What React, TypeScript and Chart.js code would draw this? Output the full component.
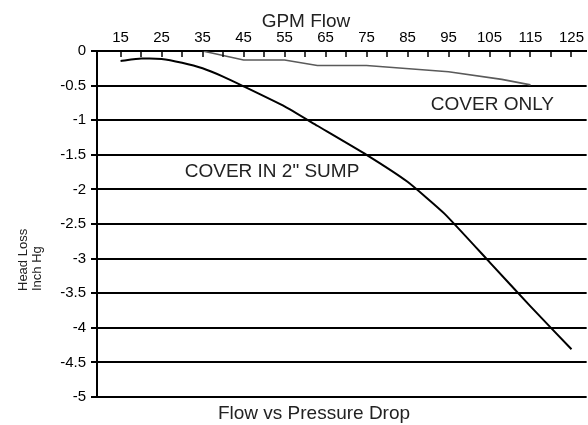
import React, { useEffect, useRef } from "react";
import { Chart, registerables } from "chart.js";

Chart.register(...registerables);

// GPM flow (x) and head loss in inch Hg (y)
const sumpFlow = [15, 20, 25, 30, 35, 40, 45, 55, 63, 75, 85, 94, 105, 115, 125];
const sumpHead = [-0.145, -0.11, -0.115, -0.17, -0.25, -0.37, -0.51, -0.8, -1.08, -1.5, -1.89, -2.35, -3.05, -3.69, -4.31];

const coverFlow = [35, 45, 55, 63, 75, 95, 108, 115];
const coverHead = [0, -0.13, -0.13, -0.21, -0.21, -0.3, -0.41, -0.49];

const xMinorTicks = [15, 20, 25, 30, 35, 40, 45, 50, 55, 60, 65, 70, 75, 80, 85, 90, 95, 100, 105, 110, 115, 120, 125];
const xLabelTicks = [15, 25, 35, 45, 55, 65, 75, 85, 95, 105, 115, 125];

const FONT = '"Liberation Sans", Arial, sans-serif';

const overlay = {
  id: "overlay",
  afterDraw(chart: any) {
    const { ctx, chartArea, scales } = chart;
    const x = scales.x;
    const y = scales.y;
    ctx.save();
    // inward tick marks on the top axis
    ctx.strokeStyle = "#000";
    ctx.lineWidth = 1.5;
    for (const v of xMinorTicks) {
      const px = Math.round(x.getPixelForValue(v));
      ctx.beginPath();
      ctx.moveTo(px, chartArea.top);
      ctx.lineTo(px, chartArea.top + 6);
      ctx.stroke();
    }
    ctx.fillStyle = "#222";
    ctx.textAlign = "center";
    ctx.textBaseline = "middle";
    ctx.font = `19px ${FONT}`;
    ctx.fillText("GPM Flow", 306, 22);
    ctx.fillText("Flow vs Pressure Drop", 314, 414);
    ctx.fillText("COVER ONLY", x.getPixelForValue(105.7), y.getPixelForValue(-0.78));
    ctx.fillText('COVER IN 2" SUMP', x.getPixelForValue(51.95), y.getPixelForValue(-1.74));
    // rotated y title
    ctx.font = `13px ${FONT}`;
    ctx.translate(0, 291);
    ctx.rotate(-Math.PI / 2);
    ctx.textAlign = "left";
    ctx.fillText("Head Loss", 0, 23);
    ctx.fillText("Inch Hg", 0, 37);
    ctx.restore();
  },
};

export default function App() {
  const ref = useRef<HTMLCanvasElement | null>(null);
  useEffect(() => {
    if (!ref.current) return;
    const chart = new Chart(ref.current, {
      type: "line",
      data: {
        datasets: [
          {
            label: "Cover only",
            data: coverFlow.map((f, i) => ({ x: f, y: coverHead[i] })),
            borderColor: "#5a5a5a",
            borderWidth: 1.6,
            pointRadius: 0,
            tension: 0,
            fill: false,
          },
          {
            label: 'Cover in 2" sump',
            data: sumpFlow.map((f, i) => ({ x: f, y: sumpHead[i] })),
            borderColor: "#000",
            borderWidth: 2,
            pointRadius: 0,
            tension: 0.15,
            fill: false,
          },
        ],
      },
      options: {
        animation: false,
        responsive: false,
        maintainAspectRatio: false,
        layout: { padding: { left: 0, right: 0, top: 0, bottom: 28 } },
        plugins: {
          legend: { display: false },
          tooltip: { enabled: false },
          title: { display: false },
        },
        scales: {
          x: {
            type: "linear",
            position: "top",
            min: 9.25,
            max: 128.7,
            afterBuildTicks: (axis: any) => {
              axis.ticks = xLabelTicks.map((v) => ({ value: v }));
            },
            afterFit: (axis: any) => {
              axis.height = 51;
            },
            ticks: {
              color: "#000",
              font: { family: FONT, size: 15 },
              padding: 4,
              maxRotation: 0,
              autoSkip: false,
            },
            grid: { drawOnChartArea: false, drawTicks: false },
            border: { display: true, color: "#000", width: 2 },
          },
          y: {
            type: "linear",
            min: -5,
            max: 0,
            afterFit: (axis: any) => {
              axis.width = 97;
            },
            ticks: {
              stepSize: 0.5,
              color: "#000",
              font: { family: FONT, size: 15 },
              padding: 5,
              callback: (v: any) => String(Number(v)),
            },
            grid: { color: "#000", lineWidth: 2, tickLength: 6, drawTicks: true },
            border: { display: true, color: "#000", width: 2 },
          },
        },
      },
      plugins: [overlay],
    });
    return () => chart.destroy();
  }, []);
  return (
    <div style={{ position: "fixed", left: 0, top: 0, width: 588, height: 425, background: "#fff" }}>
      <canvas ref={ref} width={588} height={425} style={{ width: 588, height: 425, display: "block" }} />
    </div>
  );
}
